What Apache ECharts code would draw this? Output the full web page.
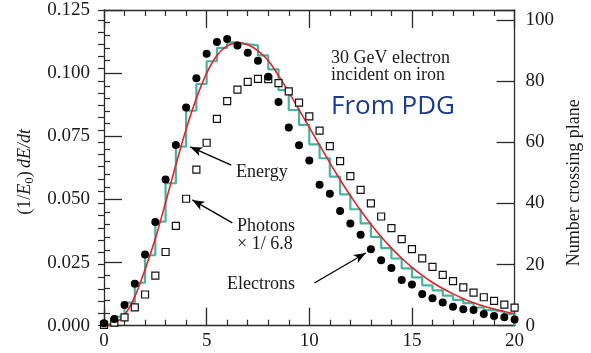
<!DOCTYPE html>
<html>
<head>
<meta charset="utf-8">
<script src="https://cdn.jsdelivr.net/npm/echarts@6/dist/echarts.min.js"></script>
<style>
html,body{margin:0;padding:0;background:#fff;}
#chart{width:591px;height:353px;}
</style>
</head>
<body>
<div id="chart"></div>
<script>
// depth t (radiation lengths) at which particles are counted
var tValues = [0,0.5,1,1.5,2,2.5,3,3.5,4,4.5,5,5.5,6,6.5,7,7.5,8,8.5,9,9.5,10,
  10.5,11,11.5,12,12.5,13,13.5,14,14.5,15,15.5,16,16.5,17,17.5,18,18.5,19,19.5,20];
// electrons crossing plane (right axis)
var electrons = [0.8,2.2,6.8,13.7,23.3,33.9,47.8,59.1,71.3,80.9,88.9,92.7,93.7,91.6,89.2,86.6,81.4,73.1,64.8,59.0,54.0,
  46.1,43.1,37.5,33.4,29.7,25.0,21.4,18.9,14.9,13.5,10.4,9.0,7.6,6.2,5.4,5.1,3.8,3.2,2.8,2.0];
// photons crossing plane x 1/6.8 (right axis)
var photons = [0.3,1.0,2.7,6.0,10.2,16.4,24.1,32.6,41.5,51.0,59.8,67.6,73.4,77.2,79.7,80.7,80.6,79.3,76.6,72.9,68.4,
  63.8,58.7,53.8,48.9,44.4,40.0,35.7,31.9,28.3,25.0,22.0,19.2,16.6,14.6,12.5,10.8,9.3,8.1,6.9,5.9];
// energy deposit histogram, bins of 0.5 starting at each binStart (left axis)
var binStarts = [0,0.5,1,1.5,2,2.5,3,3.5,4,4.5,5,5.5,6,6.5,7,7.5,8,8.5,9,9.5,
  10,10.5,11,11.5,12,12.5,13,13.5,14,14.5,15,15.5,16,16.5,17,17.5,18,18.5,19,19.5];
var energyBins = [0.0007,0.0036,0.0091,0.0170,0.0279,0.0412,0.0564,0.0709,0.0851,0.0957,
  0.1047,0.1100,0.1122,0.1115,0.1110,0.1070,0.1015,0.0933,0.0854,0.0795,
  0.0718,0.0663,0.0590,0.0520,0.0461,0.0405,0.0352,0.0307,0.0266,0.0227,
  0.0191,0.0160,0.0140,0.0119,0.0102,0.0089,0.0072,0.0062,0.0055,0.0046];
// fitted curve read at tValues (left axis)
var energyFit = [0.0000,0.0008,0.0042,0.0115,0.0222,0.0345,0.0488,0.0637,0.0778,0.0900,0.1000,0.1070,0.1108,0.1120,0.1112,0.1088,0.1050,0.0990,0.0925,0.0855,0.0785,
  0.0715,0.0645,0.0578,0.0515,0.0456,0.0402,0.0352,0.0307,0.0267,0.0231,0.0199,0.0171,0.0147,0.0126,0.0107,0.0091,0.0077,0.0066,0.0056,0.0047];
var xTicks = [0,5,10,15,20];
var leftTicks = ['0.000','0.025','0.050','0.075','0.100','0.125'];
var rightTicks = [0,20,40,60,80,100];

var serif = '"Liberation Serif", "DejaVu Serif", serif';
var txt = '#1a1a1a';
var lineC = '#2a2a2a';

var histData = [];
for (var i = 0; i < binStarts.length; i++) histData.push([binStarts[i], energyBins[i]]);
histData.push([20, energyBins[energyBins.length - 1]]);
histData.push([20, 0]);
var fitData = tValues.map(function (t, i) { return [t, energyFit[i]]; });
var eData = tValues.map(function (t, i) { return [t, electrons[i]]; });
var pData = tValues.map(function (t, i) { return [t, photons[i]]; });

function xAx(pos, showLabel) {
  return {
    type: 'value', position: pos, min: 0, max: 20, interval: 5,
    axisLine: { show: true, onZero: false, lineStyle: { color: lineC, width: 1.3 } },
    axisTick: { show: true, inside: true, length: 18, lineStyle: { color: lineC, width: 1.3 } },
    minorTick: { show: true, splitNumber: 5, length: 6, lineStyle: { color: lineC, width: 1.2 } },
    splitLine: { show: false },
    axisLabel: { show: showLabel, fontFamily: serif, fontSize: 19, color: txt, margin: 6,
      formatter: function (v) { return xTicks.indexOf(v) >= 0 ? String(v) : ''; } }
  };
}

var chart = echarts.init(document.getElementById('chart'), null, { renderer: 'canvas' });
chart.setOption({
  animation: false,
  backgroundColor: '#fff',
  grid: { left: 104, right: 73.5, top: 10, bottom: 27.3, containLabel: false },
  xAxis: [xAx('bottom', true), xAx('top', false)],
  yAxis: [
    {
      type: 'value', position: 'left', min: 0, max: 0.125, interval: 0.025,
      name: '{n|(1/}{i|E}{s|0}{n|)} {i|dE/dt}', nameLocation: 'middle', nameGap: 68, nameRotate: 90,
      nameTextStyle: { padding: [0, 8, 0, 0], rich: {
        n: { fontFamily: serif, fontSize: 18, color: txt },
        i: { fontFamily: serif, fontSize: 18, fontStyle: 'italic', color: txt },
        s: { fontFamily: serif, fontSize: 13, color: txt, verticalAlign: 'bottom', padding: [8, 0, 0, 0] }
      } },
      axisLine: { show: true, onZero: false, lineStyle: { color: lineC, width: 1.3 } },
      axisTick: { show: true, inside: true, length: 18, lineStyle: { color: lineC, width: 1.3 } },
      minorTick: { show: true, splitNumber: 5, length: 6, lineStyle: { color: lineC, width: 1.2 } },
      splitLine: { show: false },
      axisLabel: { fontFamily: serif, fontSize: 19, color: txt, margin: 14,
        formatter: function (v) { var s = v.toFixed(3); return leftTicks.indexOf(s) >= 0 ? s : ''; } }
    },
    {
      type: 'value', position: 'right', min: 0, max: 103.2, interval: 20,
      name: 'Number crossing plane', nameLocation: 'middle', nameGap: 46, nameRotate: 90,
      nameTextStyle: { fontFamily: serif, fontSize: 18, color: txt, padding: [0, 30, 0, 0] },
      axisLine: { show: true, onZero: false, lineStyle: { color: lineC, width: 1.3 } },
      axisTick: { show: true, inside: true, length: 18, lineStyle: { color: lineC, width: 1.3 } },
      splitLine: { show: false },
      axisLabel: { fontFamily: serif, fontSize: 19, color: txt, margin: 11, showMaxLabel: true,
        formatter: function (v) { return rightTicks.indexOf(Math.round(v * 1000) / 1000) >= 0 ? String(v) : ''; } }
    },
    {
      type: 'value', position: 'right', min: 0, max: 103.2, interval: 4,
      axisLine: { show: false },
      axisTick: { show: true, inside: true, length: 6, lineStyle: { color: lineC, width: 1.2 } },
      splitLine: { show: false },
      axisLabel: { show: false }
    }
  ],
  series: [
    {
      name: 'Energy', type: 'line', step: 'end', data: histData, xAxisIndex: 0, yAxisIndex: 0,
      showSymbol: false, symbol: 'none',
      lineStyle: { color: '#45b5a0', width: 2.2 }, z: 2,
      markLine: {
        silent: true, symbol: ['none', 'arrow'], symbolSize: [7, 12],
        label: { show: false },
        lineStyle: { color: '#000', width: 1.3, type: 'solid' },
        data: [
          [{ coord: [6.2, 0.0636] }, { coord: [4.2, 0.0708] }],
          [{ coord: [6.25, 0.0407] }, { coord: [4.3, 0.0498] }],
          [{ coord: [10.25, 0.0169] }, { coord: [12.75, 0.0288] }]
        ]
      }
    },
    {
      name: 'Fit', type: 'line', smooth: 0.3, data: fitData, xAxisIndex: 0, yAxisIndex: 0,
      showSymbol: false, symbol: 'none',
      lineStyle: { color: '#e8202a', width: 1.6 }, z: 3
    },
    {
      name: 'Photons', type: 'scatter', data: pData, xAxisIndex: 0, yAxisIndex: 1,
      symbol: 'rect', symbolSize: 7,
      itemStyle: { color: '#fff', borderColor: '#111', borderWidth: 1.2, opacity: 1 }, z: 4
    },
    {
      name: 'Electrons', type: 'scatter', data: eData, xAxisIndex: 0, yAxisIndex: 1,
      symbol: 'circle', symbolSize: 8,
      itemStyle: { color: '#000', opacity: 1 }, z: 5
    }
  ],
  graphic: [
    { type: 'text', left: 331, top: 49, style: { text: '30 GeV electron\nincident on iron', font: '18px "Liberation Serif"', fill: txt, lineHeight: 17 } },
    { type: 'text', left: 331, top: 94, style: { text: 'From PDG', font: '26px "Open Sans"', fill: '#1b3a8c' } },
    { type: 'text', left: 236, top: 163, style: { text: 'Energy', font: '18px "Liberation Serif"', fill: txt } },
    { type: 'text', left: 237, top: 217, style: { text: 'Photons\n\u00d7 1/ 6.8', font: '18px "Liberation Serif"', fill: txt, lineHeight: 18 } },
    { type: 'text', left: 227, top: 275, style: { text: 'Electrons', font: '18px "Liberation Serif"', fill: txt } }
  ]
});
</script>
</body>
</html>
